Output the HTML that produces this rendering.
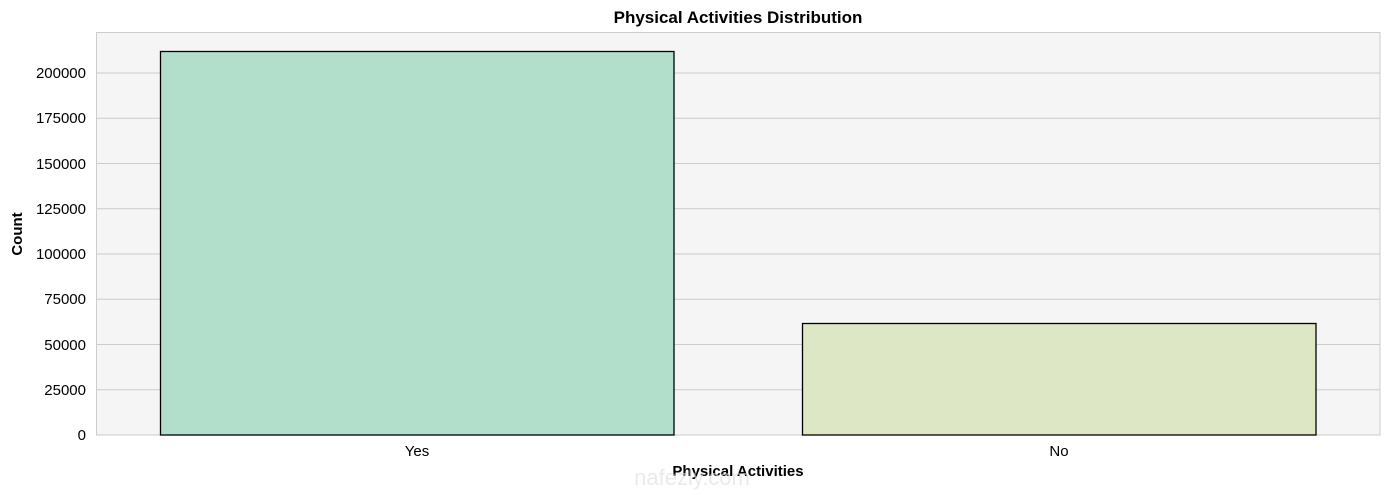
<!DOCTYPE html>
<html><head><meta charset="utf-8"><style>body{margin:0;background:#fff}</style></head><body>
<svg width="1389" height="490" xmlns="http://www.w3.org/2000/svg" font-family="Liberation Sans, Arial, sans-serif">
<rect x="96.5" y="32.5" width="1283.5" height="402.5" fill="#f5f5f5" stroke="#cccccc" stroke-width="1"/>
<g stroke="#cccccc" stroke-width="1">
<line x1="96.5" x2="1380" y1="389.75" y2="389.75"/>
<line x1="96.5" x2="1380" y1="344.5" y2="344.5"/>
<line x1="96.5" x2="1380" y1="299.25" y2="299.25"/>
<line x1="96.5" x2="1380" y1="254" y2="254"/>
<line x1="96.5" x2="1380" y1="208.75" y2="208.75"/>
<line x1="96.5" x2="1380" y1="163.5" y2="163.5"/>
<line x1="96.5" x2="1380" y1="118.25" y2="118.25"/>
<line x1="96.5" x2="1380" y1="73" y2="73"/>
</g>
<rect x="160.5" y="51.5" width="513.5" height="383.5" fill="#b2dfcc" stroke="#000" stroke-width="1.3"/>
<rect x="802.5" y="323.5" width="513.5" height="111.5" fill="#dde7c6" stroke="#000" stroke-width="1.3"/>
<g font-size="15" fill="#000" text-anchor="end">
<text x="86" y="440">0</text>
<text x="86" y="395">25000</text>
<text x="86" y="350">50000</text>
<text x="86" y="304">75000</text>
<text x="86" y="259">100000</text>
<text x="86" y="214">125000</text>
<text x="86" y="169">150000</text>
<text x="86" y="123">175000</text>
<text x="86" y="78">200000</text>
</g>
<g font-size="15" text-anchor="middle">
<text x="417" y="456">Yes</text>
<text x="1059" y="456">No</text>
<text x="738" y="476" font-weight="bold">Physical Activities</text>
<text x="738" y="23" font-weight="bold" font-size="17">Physical Activities Distribution</text>
</g>
<text transform="translate(22,234) rotate(-90)" font-size="15" font-weight="bold" text-anchor="middle">Count</text>
<text x="692" y="485" font-size="22" fill="#ddd" text-anchor="middle" opacity="0.6">nafezly.com</text>
</svg>
</body></html>
